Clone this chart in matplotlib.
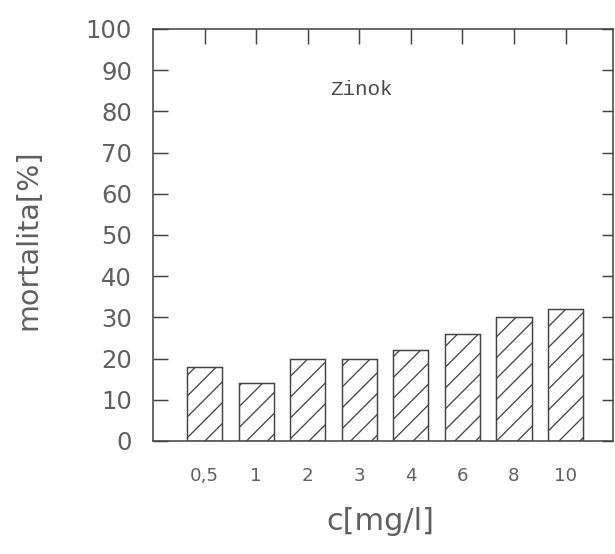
import matplotlib
matplotlib.use('Agg')
import matplotlib.pyplot as plt
import numpy as np

# mortality by zinc concentration
concentrations = ['0,5', '1', '2', '3', '4', '6', '8', '10']
mortality = [18, 14, 20, 20, 22, 26, 30, 32]
y_ticks = [0, 10, 20, 30, 40, 50, 60, 70, 80, 90, 100]

INK = '#444444'
TXT = '#606060'
DPI = 125

plt.rcParams['hatch.linewidth'] = 0.75
plt.rcParams['hatch.color'] = '#5a5a5a'

fig = plt.figure(figsize=(615 / DPI, 554 / DPI), dpi=DPI)
ax = fig.add_axes([153 / 615, 113 / 554, 460 / 615, 412 / 554])

x = np.arange(len(concentrations))
ax.bar(x, mortality, width=0.68, facecolor='white', edgecolor=INK,
       linewidth=0.85, hatch='//')

ax.set_xlim(-1, 7.92)
ax.set_ylim(0, 100)

ax.set_yticks(y_ticks)
ax.set_yticklabels([str(v) for v in y_ticks], fontsize=14, color=TXT)
ax.set_xticks(x)
ax.set_xticklabels(concentrations, fontsize=10.5, color=TXT)

ax.tick_params(axis='y', direction='in', length=8.5, width=0.85, color=INK,
               left=True, right=True, pad=12)
ax.tick_params(axis='x', direction='in', length=8.5, width=0.85, color=INK,
               top=True, bottom=False, pad=15)
# right-hand ticks are a bit shorter
for t in ax.yaxis.get_major_ticks():
    t.tick2line.set_markersize(6.5)

for s in ax.spines.values():
    s.set_color(INK)
    s.set_linewidth(0.9)

ax.text(2.43, 85.2, 'Zinok', family='Liberation Mono', fontsize=12,
        color='#4a4a4a', va='center', ha='left')

fig.text(28 / 615, 1 - 240 / 554, 'mortalita[%]', rotation=90,
         ha='center', va='center', fontsize=16.5, color=TXT)
fig.text(380 / 615, 1 - 522 / 554, 'c[mg/l]', ha='center', va='center',
         fontsize=17.5, color=TXT)

fig.savefig('out.png', dpi=DPI, facecolor='white')
